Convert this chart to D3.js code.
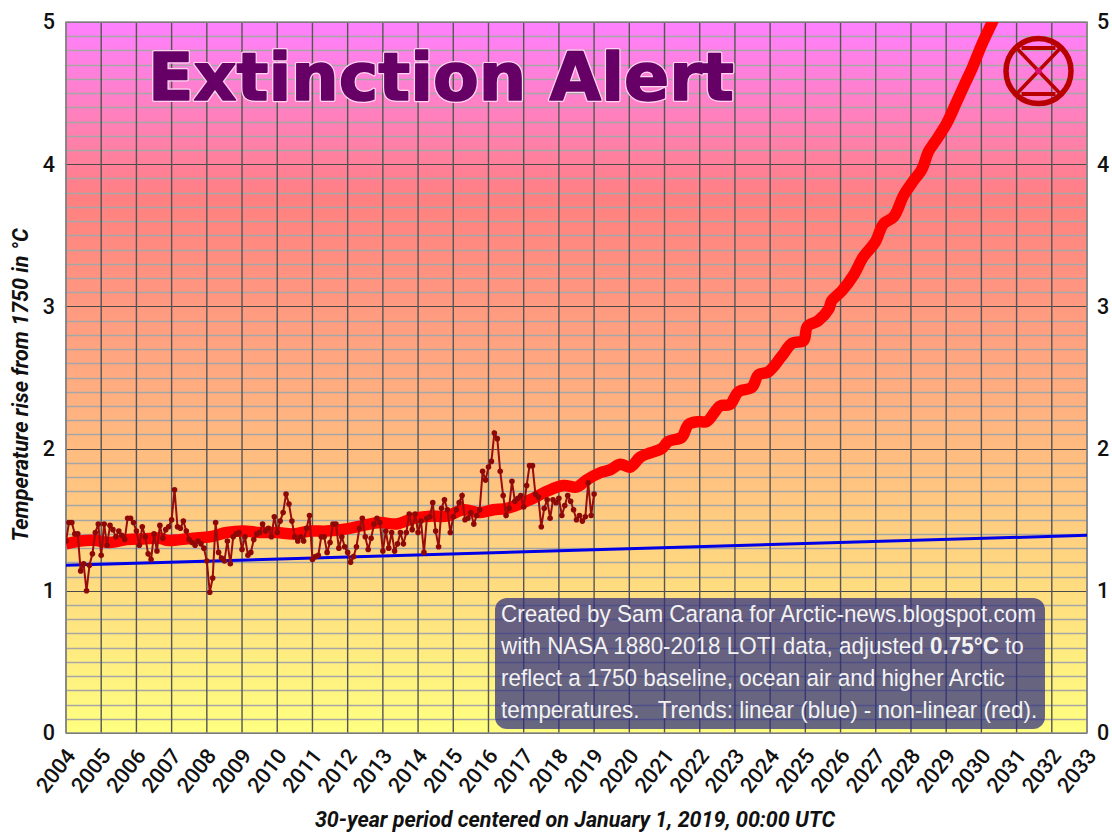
<!DOCTYPE html>
<html><head><meta charset="utf-8">
<script src="https://cdn.jsdelivr.net/npm/d3@7/dist/d3.min.js"></script>
<style>html,body{margin:0;padding:0;background:#fff}svg{display:block}</style></head>
<body><svg id="c" width="1112" height="835"></svg>
<script>
const yearTicks = d3.range(2004, 2034);
const yTicks = [0,1,2,3,4,5];
const noteLines = [
 ["Created by Sam Carana for Arctic-news.blogspot.com"],
 ["with NASA 1880-2018 LOTI data, adjusted ", "0.75°C", " to"],
 ["reflect a 1750 baseline, ocean air and higher Arctic"],
 ["temperatures.   Trends: linear (blue) - non-linear (red)."]
];
const monthly = [1.35,1.48,1.48,1.40,1.40,1.14,1.19,1.00,1.18,1.26,1.41,1.47,1.25,1.47,1.32,1.46,1.43,1.38,1.42,1.39,1.36,1.51,1.51,1.48,1.42,1.32,1.45,1.38,1.26,1.22,1.40,1.28,1.46,1.37,1.43,1.45,1.50,1.71,1.45,1.44,1.49,1.42,1.36,1.34,1.32,1.35,1.33,1.30,1.21,0.99,1.09,1.48,1.27,1.23,1.21,1.35,1.19,1.38,1.40,1.41,1.29,1.38,1.25,1.27,1.36,1.40,1.41,1.47,1.42,1.44,1.38,1.52,1.41,1.49,1.55,1.68,1.61,1.49,1.38,1.35,1.38,1.35,1.44,1.53,1.22,1.24,1.25,1.38,1.38,1.27,1.34,1.47,1.47,1.30,1.38,1.31,1.27,1.20,1.24,1.31,1.44,1.51,1.38,1.29,1.37,1.47,1.51,1.48,1.28,1.42,1.30,1.41,1.28,1.33,1.41,1.33,1.41,1.54,1.43,1.54,1.41,1.49,1.27,1.51,1.52,1.62,1.42,1.31,1.58,1.64,1.57,1.41,1.52,1.57,1.62,1.67,1.50,1.51,1.55,1.47,1.53,1.57,1.84,1.78,1.87,1.91,2.11,2.07,1.84,1.67,1.53,1.58,1.77,1.63,1.65,1.67,1.59,1.74,1.88,1.88,1.68,1.66,1.45,1.58,1.64,1.51,1.64,1.62,1.65,1.53,1.60,1.67,1.63,1.57,1.50,1.53,1.49,1.52,1.76,1.53,1.68];
const trendYears = [2004,2004.4,2004.78,2005.25,2005.72,2006.2,2006.67,2006.86,2007.24,2007.62,2008.09,2008.56,2009.04,2009.51,2009.98,2010.46,2010.93,2011.41,2011.97,2012.45,2012.92,2013.39,2013.87,2014.34,2014.81,2015.29,2015.76,2016.14,2016.52,2017.18,2017.66,2018.13,2018.51,2018.79,2019.17,2019.45,2019.74,2020.02,2020.31,2020.59,2020.92,2021.11,2021.49,2021.68,2021.98,2022.2,2022.58,2022.86,2023.1,2023.48,2023.67,2023.95,2024.33,2024.62,2024.95,2025.06,2025.37,2025.66,2025.75,2026.04,2026.37,2026.65,2026.98,2027.22,2027.51,2027.79,2028.03,2028.31,2028.5,2028.69,2029.02,2029.3,2029.54,2029.73,2030.01,2030.35,2030.6];
const trendValues = [1.33,1.35,1.355,1.34,1.36,1.365,1.37,1.355,1.36,1.37,1.38,1.41,1.42,1.41,1.41,1.40,1.42,1.42,1.435,1.46,1.48,1.47,1.51,1.525,1.525,1.57,1.55,1.57,1.58,1.64,1.70,1.74,1.73,1.78,1.83,1.85,1.89,1.87,1.94,1.97,2.0,2.05,2.08,2.17,2.19,2.19,2.30,2.31,2.40,2.43,2.52,2.54,2.65,2.74,2.76,2.86,2.90,2.98,3.04,3.11,3.22,3.35,3.45,3.58,3.63,3.78,3.87,3.965,4.09,4.16,4.29,4.44,4.57,4.67,4.84,5.02,5.16];
const blueYears = [2004,2033];
const blueValues = [1.18,1.39];

const svg = d3.select("#c");
const L=66,R=1087,T=22,B=733;
const x = d3.scaleLinear().domain([2004,2033]).range([L,R]);
const y = d3.scaleLinear().domain([0,5]).range([B,T]);

const defs = svg.append("defs");
const grad = defs.append("linearGradient").attr("id","bg").attr("x1",0).attr("x2",0).attr("y1",0).attr("y2",1);
[[0,"#ff80ff"],[0.25,"#ff8080"],[1,"#ffff80"]].forEach(s=>grad.append("stop").attr("offset",s[0]).attr("stop-color",s[1]));
defs.append("clipPath").attr("id","plot").append("rect").attr("x",L).attr("y",T).attr("width",R-L).attr("height",B-T);

svg.append("rect").attr("x",L).attr("y",T).attr("width",R-L).attr("height",B-T).attr("fill","url(#bg)");

const isMajor = d=>Math.abs(d-Math.round(d))<1e-6;
const grid = svg.append("g");
grid.selectAll(".m").data(d3.range(0,51).map(d=>d/10)).join("line")
 .attr("x1",L).attr("x2",R).attr("y1",d=>Math.round(y(d))+0.5).attr("y2",d=>Math.round(y(d))+0.5)
 .attr("stroke",d=>isMajor(d)?"#4a4a4a":"#a6a6a6").attr("stroke-width",d=>isMajor(d)?1.2:1.5);
grid.selectAll(".v").data(yearTicks).join("line")
 .attr("x1",d=>x(d)).attr("x2",d=>x(d)).attr("y1",T).attr("y2",B)
 .attr("stroke","#555").attr("stroke-width",1.4);
svg.append("rect").attr("x",L).attr("y",T).attr("width",R-L).attr("height",B-T).attr("fill","none").attr("stroke","#8c8c8c").attr("stroke-width",1.5);

const plot = svg.append("g").attr("clip-path","url(#plot)");
const line = d3.line().curve(d3.curveCatmullRom);
plot.append("path").attr("d",line(trendYears.map((t,i)=>[x(t),y(trendValues[i])])))
 .attr("fill","none").attr("stroke","#ff0000").attr("stroke-width",11.5).attr("stroke-linejoin","round");
plot.append("path").attr("d",d3.line()(blueYears.map((t,i)=>[x(t),y(blueValues[i])])))
 .attr("fill","none").attr("stroke","#0000e6").attr("stroke-width",3);
const mx = i=>x(2004+i/12);
plot.append("path").attr("d",d3.line()(monthly.map((v,i)=>[mx(i),y(v)])))
 .attr("fill","none").attr("stroke","#970c0c").attr("stroke-width",2);
plot.selectAll("circle.p").data(monthly).join("circle").attr("class","p")
 .attr("cx",(d,i)=>mx(i)).attr("cy",d=>y(d)).attr("r",2.8).attr("fill","#8f0808");

// title
const titleAttrs = s=>s.attr("x",148).attr("y",100).text("Extinction Alert")
 .attr("font-family","DejaVu Sans").attr("font-weight","bold").attr("font-size",66)
 .attr("textLength",586).attr("lengthAdjust","spacingAndGlyphs");
titleAttrs(svg.append("text")).attr("fill","none").attr("stroke","#ffd6f0").attr("stroke-width",4).attr("stroke-linejoin","round");
titleAttrs(svg.append("text")).attr("fill","#660066").attr("stroke","#660066").attr("stroke-width",1.6).attr("stroke-linejoin","round");

// symbol
const sym = svg.append("g").attr("fill","none").attr("stroke","#b80000");
const cx=1038.5,cy=71;
sym.append("circle").attr("cx",cx).attr("cy",cy).attr("r",32.5).attr("stroke-width",5.5);
sym.append("path").attr("stroke-width",3.6).attr("d",`M${cx-22},${cy-23}L${cx+22},${cy+23}M${cx+22},${cy-23}L${cx-22},${cy+23}`);
sym.append("path").attr("stroke-width",4).attr("d",`M${cx-17},${cy-23}H${cx+17}M${cx-17},${cy+23}H${cx+17}`);
svg.append("circle").attr("cx",cx).attr("cy",cy).attr("r",3.2).attr("fill","#d8106a");

// note
svg.append("rect").attr("x",495).attr("y",598).attr("width",550).attr("height",131).attr("rx",12)
 .attr("fill","#2c2c80").attr("fill-opacity",0.72);
noteLines.forEach((ln,i)=>{
  const t = svg.append("text").attr("transform",`translate(501,${622+i*32}) scale(0.955,1)`)
    .attr("font-family","Liberation Sans").attr("font-size",23.5).attr("fill","#f2f2f2")
    .style("white-space","pre");
  ln.forEach((s,j)=>{ t.append("tspan").attr("font-weight",j===1?"bold":"normal").text(s); });
});

// axes
const font="Roboto", ink="#111";
const xa = svg.append("g").attr("transform",`translate(0,${B})`).call(d3.axisBottom(x).tickValues(yearTicks).tickFormat(d3.format("d")).tickSize(0));
xa.select(".domain").remove();
xa.selectAll(".tick text").attr("font-family",font).attr("font-weight",500).attr("font-size",21.5).attr("fill",ink)
  .attr("text-anchor","end").attr("dy",0).attr("x",0).attr("y",0)
  .attr("transform","translate(10,23) rotate(-52)");
const yl = svg.append("g").attr("transform",`translate(${L},0)`).call(d3.axisLeft(y).tickValues(yTicks).tickFormat(d3.format("d")).tickSize(0));
yl.select(".domain").remove();
yl.selectAll("text").attr("font-family",font).attr("font-weight",500).attr("font-size",21.5).attr("fill",ink).attr("x",-11);
const yr = svg.append("g").attr("transform",`translate(${R},0)`).call(d3.axisRight(y).tickValues(yTicks).tickFormat(d3.format("d")).tickSize(0));
yr.select(".domain").remove();
yr.selectAll("text").attr("font-family",font).attr("font-weight",500).attr("font-size",21.5).attr("fill",ink).attr("x",10);

svg.append("text").attr("transform","translate(28,385) rotate(-90)").attr("text-anchor","middle")
 .attr("font-family",font).attr("font-weight","bold").attr("font-style","italic").attr("font-size",21.5).attr("fill",ink)
 .text("Temperature rise from 1750 in °C");
svg.append("text").attr("x",575).attr("y",827).attr("text-anchor","middle")
 .attr("font-family",font).attr("font-weight","bold").attr("font-style","italic").attr("font-size",21.5).attr("fill",ink)
 .text("30-year period centered on January 1, 2019, 00:00 UTC");
</script></body></html>
